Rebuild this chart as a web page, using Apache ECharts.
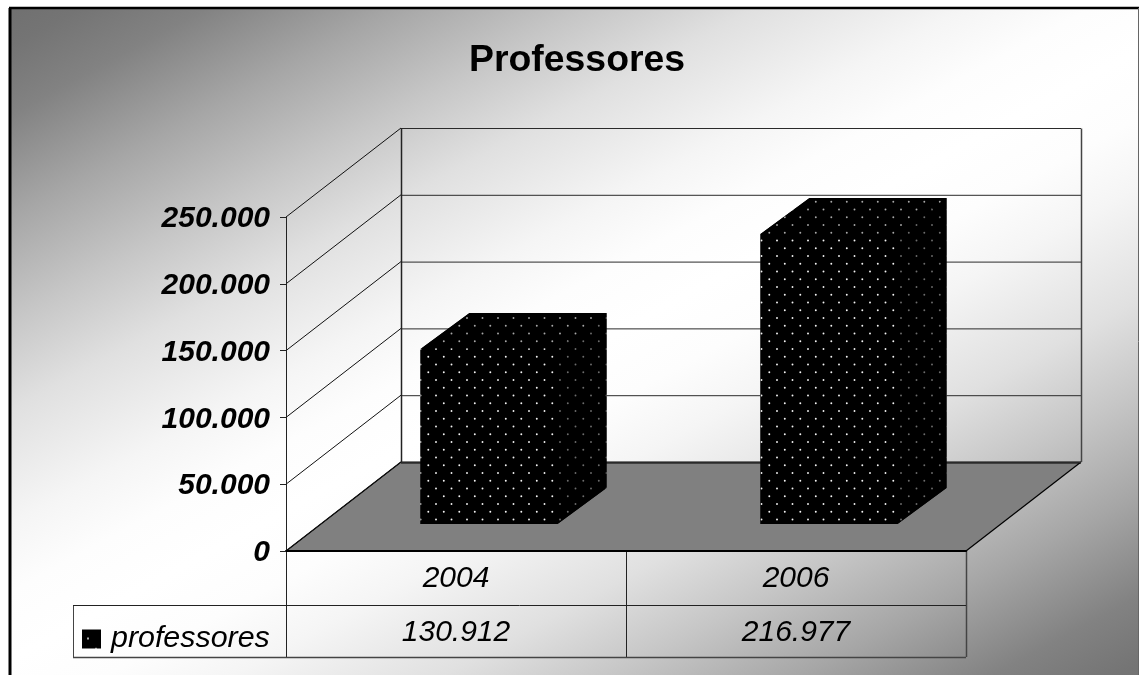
<!DOCTYPE html>
<html><head><meta charset="utf-8">
<style>html,body{margin:0;padding:0;background:#fff}#c{width:1139px;height:675px}</style>
<script src="https://cdn.jsdelivr.net/npm/echarts@6/dist/echarts.min.js"></script>
</head><body><div id="c"></div>
<script>
const categories = ['2004', '2006'];
const seriesName = 'professores';
const professores = [130912, 216977];
const axisTicks = [0, 50000, 100000, 150000, 200000, 250000];
const FONT = '"Liberation Sans", Arial, sans-serif';
const fmt = v => String(v).replace(/\B(?=(\d{3})+$)/g, '.');

// layout
const G = {left: 286, right: 966, top: 217, bottom: 551};
const WALL = {dx: 115, dy: -89};
const BAR = {shift: 33, dy: -27, widthFrac: 137 / 340, dx3d: 49, dy3d: -36};

function dotPattern(color) {
  const c = document.createElement('canvas');
  c.width = 31; c.height = 31;
  const x = c.getContext('2d');
  x.fillStyle = '#000'; x.fillRect(0, 0, 31, 31);
  x.fillStyle = color;
  const pts = [[9.8, 0.2], [25.3, 0.2], [2, 7.95], [17.5, 7.95], [9.8, 15.7], [25.3, 15.7], [2, 23.45], [17.5, 23.45]];
  pts.forEach(p => { [0, 31].forEach(o => {
    x.beginPath(); x.arc(p[0], p[1] + o, 0.95, 0, Math.PI * 2); x.fill();
  }); });
  return {image: c, repeat: 'repeat'};
}
function keyPattern() {
  const c = document.createElement('canvas');
  c.width = 64; c.height = 64;
  const x = c.getContext('2d');
  x.fillStyle = '#000'; x.fillRect(0, 0, 64, 64);
  x.fillStyle = '#e4e4e4';
  [[6, 9], [14, 19.5]].forEach(p => { x.beginPath(); x.arc(p[0], p[1], 1, 0, Math.PI * 2); x.fill(); });
  return {image: c, repeat: 'repeat'};
}
const patFront = dotPattern('#f4f4f4');
const patTop = dotPattern('#a8a8a8');
const patSide = dotPattern('#6c6c6c');

const line = (x1, y1, x2, y2, color, w) => ({
  type: 'line', shape: {x1, y1, x2, y2}, style: {stroke: color || '#111', lineWidth: w || 1}, silent: true
});

function renderFloor(params, api) {
  const p = api.coord([0, api.value(1)]);
  const w = api.size([1, 0])[0];
  const l = p[0] - w / 2, r = l + 2 * w, y = p[1];
  return {type: 'group', children: [
    {type: 'polygon', shape: {points: [[l, y], [r, y], [r + WALL.dx, y + WALL.dy], [l + WALL.dx, y + WALL.dy]]}, style: {fill: '#808080'}},
    line(r, y, r + WALL.dx, y + WALL.dy, '#000', 1.2),
    line(l, y, l + WALL.dx, y + WALL.dy, '#000', 1.2),
    line(l + WALL.dx, y + WALL.dy + 0.5, r + WALL.dx, y + WALL.dy + 0.5, '#000', 2)
  ]};
}
function renderWall(params, api) {
  const v = api.value(1);
  const p = api.coord([0, v]);
  const w = api.size([1, 0])[0];
  const l = p[0] - w / 2, r = l + 2 * w, y = p[1];
  const by = y + WALL.dy + 0.5;
  const ch = [
    line(l, y, l + WALL.dx, y + WALL.dy, '#111', 1),
    line(l + WALL.dx, by, r + WALL.dx, by, '#2a2a2a', 1)
  ];
  if (v === axisTicks[axisTicks.length - 1]) {
    const base = api.coord([0, 0])[1] + WALL.dy;
    ch.push(line(l + WALL.dx + 0.5, by, l + WALL.dx + 0.5, base, '#222', 1.5));
    ch.push(line(r + WALL.dx + 0.5, by, r + WALL.dx + 0.5, base, '#444', 1.5));
  }
  return {type: 'group', children: ch};
}
function renderBar(params, api) {
  const i = api.value(0), v = api.value(1);
  const top = api.coord([i, v]), base = api.coord([i, 0]);
  const w = api.size([1, 0])[0] * BAR.widthFrac;
  const l = top[0] + BAR.shift - w / 2, r = l + w;
  const t = top[1] + BAR.dy, b = base[1] + BAR.dy;
  const dx = BAR.dx3d, dy = BAR.dy3d;
  return {type: 'group', children: [
    {type: 'polygon', shape: {points: [[l, t], [l + dx, t + dy], [r + dx, t + dy], [r + dx, b + dy], [r, b], [l, b]]}, style: {fill: '#000'}},
    {type: 'polygon', shape: {points: [[l, t], [r, t], [r + dx, t + dy], [l + dx, t + dy]]}, style: {fill: patTop}},
    {type: 'polygon', shape: {points: [[r, t], [r + dx, t + dy], [r + dx, b + dy], [r, b]]}, style: {fill: patSide}},
    {type: 'rect', shape: {x: l, y: t, width: w, height: b - t}, style: {fill: patFront}}
  ]};
}
function renderValueText(params, api) {
  const i = api.value(0), v = api.value(1);
  const p = api.coord([i, 0]);
  return {type: 'text', style: {x: p[0], y: p[1] + 82, text: fmt(v), align: 'center', verticalAlign: 'middle',
    font: 'italic 30px ' + FONT, fill: '#000'}};
}

// background: grey-white-grey band, measured along the direction (ux, uy)
const ux = 0.475, uy = 0.88;
const Ax = 575, Ay = 355, R = 575;
const shade = [[0, '#ffffff'], [60, '#fdfdfd'], [120, '#f5f5f5'], [220, '#e0e0e0'], [300, '#c6c6c6'],
               [390, '#a6a6a6'], [480, '#828282'], [540, '#747474'], [575, '#707070']];
const stops = [];
shade.slice().reverse().forEach(s => stops.push({offset: 0.5 - s[0] / (2 * R), color: s[1]}));
shade.slice(1).forEach(s => stops.push({offset: 0.5 + s[0] / (2 * R), color: s[1]}));
const bg = new echarts.graphic.LinearGradient(Ax - R * ux, Ay - R * uy, Ax + R * ux, Ay + R * uy, stops, true);

const T = {r1: 605, r2: 657, keyL: 73, mid: 626};
const tl = (x1, y1, x2, y2, stroke, lw) => ({type: 'line', z: 1, silent: true, shape: {x1, y1, x2, y2}, style: {stroke: stroke || '#222', lineWidth: lw || 1}});

const chart = echarts.init(document.getElementById('c'), null, {renderer: 'canvas', devicePixelRatio: 1});
chart.setOption({
  animation: false,
  backgroundColor: '#fff',
  title: {text: 'Professores', left: 469, top: 42, padding: 0,
    textStyle: {fontFamily: FONT, fontWeight: 'bold', fontSize: 37.4, color: '#000'}},
  legend: {left: 82, top: 624, padding: 0, itemWidth: 19, itemHeight: 19, icon: 'rect',
    data: [{name: seriesName, itemStyle: {color: keyPattern()}}],
    textStyle: {fontFamily: FONT, fontStyle: 'italic', fontSize: 30.4, color: '#000', padding: [0, 0, 2, 5]}},
  grid: {left: G.left, top: G.top, width: G.right - G.left, height: G.bottom - G.top},
  xAxis: {type: 'category', data: categories, z: 6,
    axisLine: {show: true, lineStyle: {color: '#000', width: 2}},
    axisTick: {show: false}, splitLine: {show: false},
    axisLabel: {margin: 13, fontFamily: FONT, fontStyle: 'italic', fontSize: 30, color: '#000'}},
  yAxis: {type: 'value', min: 0, max: 250000, interval: 50000, z: 6,
    axisLine: {show: true, lineStyle: {color: '#222', width: 1}},
    axisTick: {show: true, length: 6, lineStyle: {color: '#222', width: 1}},
    splitLine: {show: false},
    axisLabel: {margin: 16, verticalAlign: 'top', lineHeight: 4, fontFamily: FONT, fontStyle: 'italic', fontWeight: 'bold', fontSize: 30, color: '#000', formatter: v => fmt(v)}},
  graphic: [
    {type: 'rect', z: -100, silent: true, shape: {x: 10, y: 8, width: 1128, height: 668}, style: {fill: bg}},
    {type: 'line', z: -99, silent: true, shape: {x1: 9, y1: 8, x2: 1139, y2: 8}, style: {stroke: '#000', lineWidth: 2.4}},
    {type: 'line', z: -99, silent: true, shape: {x1: 10, y1: 8, x2: 10, y2: 675}, style: {stroke: '#000', lineWidth: 3}},
    {type: 'line', z: -99, silent: true, shape: {x1: 1138.5, y1: 8, x2: 1138.5, y2: 675}, style: {stroke: '#666', lineWidth: 1}},
    tl(T.mid + 0.5, G.bottom, T.mid + 0.5, T.r2),
    tl(G.right + 0.5, G.bottom, G.right + 0.5, T.r2, '#444', 1.5),
    tl(G.left + 0.5, G.bottom, G.left + 0.5, T.r2),
    tl(T.keyL + 0.5, T.r1, T.keyL + 0.5, T.r2, '#444', 1),
    tl(T.keyL, T.r1 + 0.5, G.right, T.r1 + 0.5),
    tl(T.keyL, T.r2 + 0.5, G.right, T.r2 + 0.5, '#444', 1.5)
  ],
  series: [
    {type: 'custom', name: 'floor', z: 2, silent: true, renderItem: renderFloor, data: [[0, axisTicks[0]]]},
    {type: 'custom', name: 'walls', z: 3, silent: true, renderItem: renderWall, data: axisTicks.map(v => [0, v])},
    {type: 'custom', name: seriesName, z: 4, silent: true, renderItem: renderBar,
      data: professores.map((v, i) => [i, v]), itemStyle: {color: '#000'}},
    {type: 'custom', name: 'table', z: 5, silent: true, renderItem: renderValueText,
      data: professores.map((v, i) => [i, v])}
  ]
});
</script></body></html>
